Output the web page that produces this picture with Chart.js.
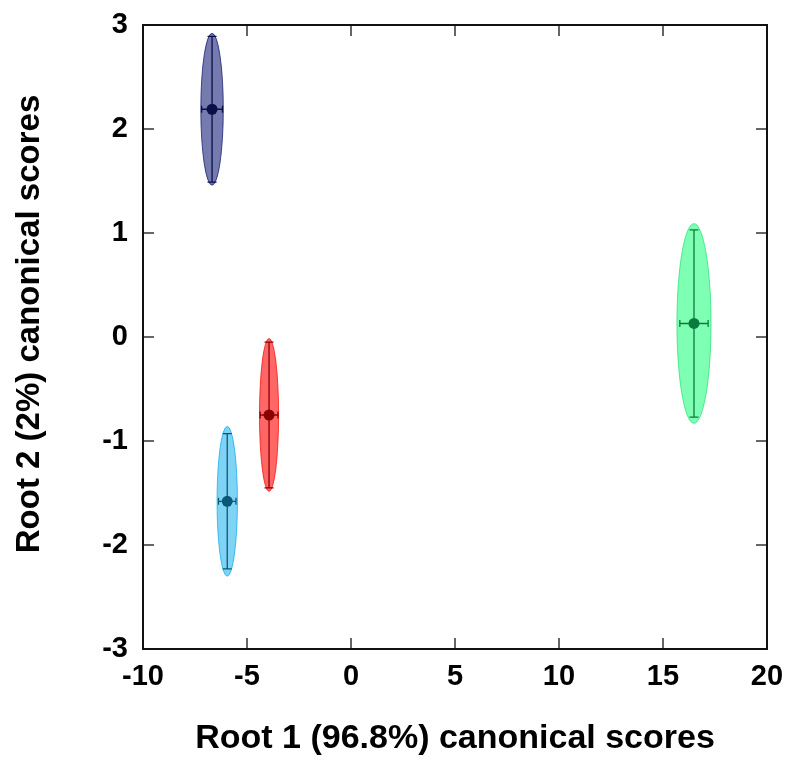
<!DOCTYPE html>
<html>
<head>
<meta charset="utf-8">
<script src="https://cdn.jsdelivr.net/npm/chart.js@4.4.1/dist/chart.umd.min.js"></script>
<style>
  html, body { margin: 0; padding: 0; background: #fff; }
  #wrap { width: 789px; height: 764px; }
</style>
</head>
<body>
<div id="wrap"><canvas id="myChart" width="789" height="764"></canvas></div>
<script>
// group means and spreads
var groups = ['Group 1', 'Group 2', 'Group 3', 'Group 4'];
var meanX = [-6.68, -3.94, -5.95, 16.49];
var meanY = [2.19, -0.75, -1.58, 0.13];
var errX = [0.50, 0.43, 0.42, 0.68];
var errY = [0.70, 0.70, 0.65, 0.90];
var ellRx = [0.54, 0.46, 0.49, 0.82];
var ellRy = [0.73, 0.735, 0.72, 0.96];

var xTicks = [-10, -5, 0, 5, 10, 15, 20];
var yTicks = [-3, -2, -1, 0, 1, 2, 3];

var xTitle = 'Root 1 (96.8%) canonical scores';
var yTitle = 'Root 2 (2%) canonical scores';

var fillColors = ['rgba(25,35,120,0.6)', 'rgba(255,0,0,0.6)', 'rgba(0,170,235,0.5)', 'rgba(0,255,105,0.5)'];
var edgeColors = ['rgba(25,35,120,0.8)', 'rgba(255,0,0,0.7)', 'rgba(0,170,235,0.7)', 'rgba(0,220,100,0.6)'];
var darkColors = ['#0b0f48', '#8b0000', '#0a5878', '#0b7a3e'];

var fontFamily = 'Liberation Sans, Arial, sans-serif';

// ellipses and error bars, placed through the chart's scales
var ellipsePlugin = {
  id: 'ellipses',
  beforeDatasetsDraw: function(chart) {
    var ctx = chart.ctx;
    var xs = chart.scales.x, ys = chart.scales.y;
    ctx.save();
    for (var i = 0; i < groups.length; i++) {
      var cx = xs.getPixelForValue(meanX[i]);
      var cy = ys.getPixelForValue(meanY[i]);
      var rx = Math.abs(xs.getPixelForValue(meanX[i] + ellRx[i]) - cx);
      var ry = Math.abs(ys.getPixelForValue(meanY[i] + ellRy[i]) - cy);
      ctx.beginPath();
      ctx.ellipse(cx, cy, rx, ry, 0, 0, Math.PI * 2);
      ctx.fillStyle = fillColors[i];
      ctx.fill();
      ctx.lineWidth = 1;
      ctx.strokeStyle = edgeColors[i];
      ctx.stroke();

      var x1 = xs.getPixelForValue(meanX[i] - errX[i]);
      var x2 = xs.getPixelForValue(meanX[i] + errX[i]);
      var y1 = ys.getPixelForValue(meanY[i] + errY[i]);
      var y2 = ys.getPixelForValue(meanY[i] - errY[i]);
      ctx.strokeStyle = darkColors[i];
      ctx.lineWidth = 1.3;
      ctx.beginPath();
      ctx.moveTo(cx, y1); ctx.lineTo(cx, y2);
      ctx.moveTo(cx - 4.5, y1); ctx.lineTo(cx + 4.5, y1);
      ctx.moveTo(cx - 4.5, y2); ctx.lineTo(cx + 4.5, y2);
      ctx.moveTo(x1, cy); ctx.lineTo(x2, cy);
      ctx.moveTo(x1, cy - 3.5); ctx.lineTo(x1, cy + 3.5);
      ctx.moveTo(x2, cy - 3.5); ctx.lineTo(x2, cy + 3.5);
      ctx.stroke();
    }
    ctx.restore();
  },
  afterDraw: function(chart) {
    var ctx = chart.ctx;
    var a = chart.chartArea;
    var xs = chart.scales.x, ys = chart.scales.y;
    ctx.save();
    // inward ticks on all four sides
    ctx.strokeStyle = '#666';
    ctx.lineWidth = 2;
    ctx.beginPath();
    xTicks.forEach(function(v) {
      var px = xs.getPixelForValue(v);
      ctx.moveTo(px, a.bottom); ctx.lineTo(px, a.bottom - 11);
      ctx.moveTo(px, a.top); ctx.lineTo(px, a.top + 11);
    });
    yTicks.forEach(function(v) {
      var py = ys.getPixelForValue(v);
      ctx.moveTo(a.left, py); ctx.lineTo(a.left + 11, py);
      ctx.moveTo(a.right, py); ctx.lineTo(a.right - 11, py);
    });
    ctx.stroke();
    ctx.strokeStyle = '#111';
    ctx.lineWidth = 2;
    ctx.strokeRect(a.left, a.top, a.right - a.left, a.bottom - a.top);

    // y title, sits a bit above the axis middle in the original
    ctx.translate(30, 324);
    ctx.rotate(-Math.PI / 2);
    ctx.fillStyle = '#000';
    ctx.font = 'bold 33px ' + fontFamily;
    ctx.textAlign = 'center';
    ctx.textBaseline = 'middle';
    ctx.fillText(yTitle, 0, 0);
    ctx.restore();
  }
};

var points = meanX.map(function(x, i) { return { x: x, y: meanY[i] }; });

var ctx = document.getElementById('myChart').getContext('2d');
var myChart = new Chart(ctx, {
  type: 'scatter',
  data: {
    datasets: [{
      label: 'Group means',
      data: points,
      pointRadius: 5.5,
      pointBackgroundColor: darkColors,
      pointBorderColor: darkColors,
      pointBorderWidth: 0
    }]
  },
  options: {
    responsive: false,
    animation: false,
    layout: { padding: { top: 25, right: 22, left: 0, bottom: 0 } },
    plugins: {
      legend: { display: false },
      tooltip: { enabled: false }
    },
    scales: {
      x: {
        type: 'linear',
        min: -10,
        max: 20,
        afterBuildTicks: function(scale) {
          scale.ticks = xTicks.map(function(v) { return { value: v }; });
        },
        afterFit: function(scale) {
          scale.height = 115;
          scale.paddingLeft = 0;
          scale.paddingRight = 0;
        },
        grid: { display: false, drawTicks: false },
        border: { display: false },
        ticks: {
          color: '#000',
          padding: 11,
          maxRotation: 0,
          font: { family: fontFamily, size: 29, weight: 'bold' }
        },
        title: {
          display: true,
          text: xTitle,
          color: '#000',
          padding: { top: 0, bottom: 5 },
          font: { family: fontFamily, size: 34, weight: 'bold' }
        }
      },
      y: {
        type: 'linear',
        min: -3,
        max: 3,
        afterBuildTicks: function(scale) {
          scale.ticks = yTicks.map(function(v) { return { value: v }; });
        },
        afterFit: function(scale) {
          scale.width = 143;
          scale.paddingTop = 0;
          scale.paddingBottom = 0;
        },
        grid: { display: false, drawTicks: false },
        border: { display: false },
        ticks: {
          color: '#000',
          padding: 15,
          font: { family: fontFamily, size: 29, weight: 'bold' }
        },
        title: { display: false }
      }
    }
  },
  plugins: [ellipsePlugin]
});
</script>
</body>
</html>
